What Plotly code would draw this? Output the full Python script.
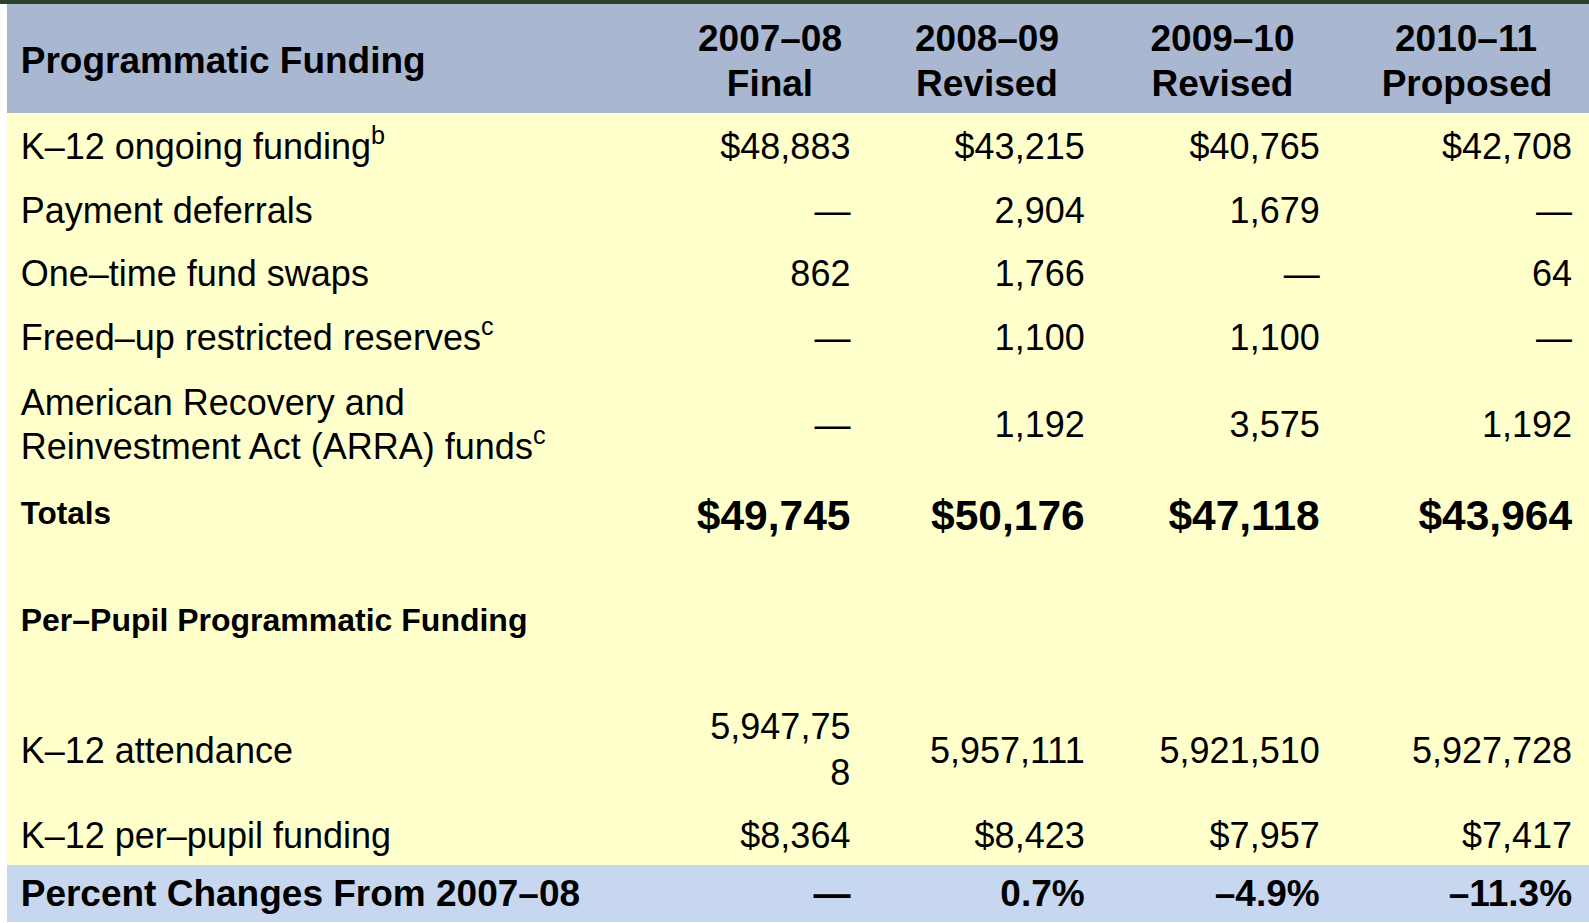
import plotly.graph_objects as go

# ------------------------------------------------------------------ data
years = ["2007–08", "2008–09", "2009–10", "2010–11"]
stages = ["Final", "Revised", "Revised", "Proposed"]
funding_labels = [["K–12 ongoing funding"], ["Payment deferrals"], ["One–time fund swaps"],
                  ["Freed–up restricted reserves"],
                  ["American Recovery and", "Reinvestment Act (ARRA) funds"]]
funding_notes = ["b", "", "", "c", "c"]
k12_ongoing = [48883, 43215, 40765, 42708]
payment_deferrals = [None, 2904, 1679, None]
fund_swaps = [862, 1766, None, 64]
freed_reserves = [None, 1100, 1100, None]
arra_funds = [None, 1192, 3575, 1192]
totals = [49745, 50176, 47118, 43964]
attendance = [5947758, 5957111, 5921510, 5927728]
per_pupil = [8364, 8423, 7957, 7417]
pct_change = [None, 0.7, -4.9, -11.3]

# ------------------------------------------------------------------ style / layout
FONT = "Liberation Sans, Arial, sans-serif"
HEADER_BG = "#A9B8D0"
BODY_BG = "#FFFFCC"
FOOT_BG = "#C6D7EF"
BAND = "#2A4227"

FIG_W, FIG_H = 1589, 923
LEFT, TOP = 7, 4
PAD = 8                       # plotly table cell padding
ASC, DESC, NBW, LS = 0.905, 0.212, 0.278, 1.3
HEADER_H = 109
EDGES = [7, 666, 874, 1100, 1345, 1589]
NUM_END = [850.4, 1084.7, 1319.7, 1572.1]
LABEL_INDENT = 5.7
CELL_MIN = 20

REG = 36          # regular body text
HDR = 37          # bold header text
TOT_LBL, TOT_NUM, SUBHEAD, FOOT = 31.5, 42.5, 32, 37
F_LABEL = 44.0 / LS     # base font of label column (line step 44px)
F_COL1 = 46.0 / LS      # base font of first value column (line step 46px)
F_NUM = 36
F_HDR = 44.5 / LS

NB = "\u00a0"
W_REG = {**{d: 0.556 for d in "0123456789"}, ",": 0.278, ".": 0.278, "$": 0.556,
         "%": 0.889, "–": 0.556, "—": 1.0}
W_BOLD = {**{d: 0.556 for d in "0123456789"}, "–": 0.556, "F": 0.611, "i": 0.278, "n": 0.611,
          "a": 0.556, "l": 0.278, "R": 0.722, "e": 0.556, "v": 0.556, "s": 0.556, "d": 0.611,
          "P": 0.667, "r": 0.389, "o": 0.611, "p": 0.611, "$": 0.556, ",": 0.278, ".": 0.278,
          "%": 0.889, "—": 1.0}


def sp(size):
    return f"<span style='font-size:{size:.2f}px'>{NB}</span>"


def hpad(px, unit=28.0):
    out, step = "", unit * NBW
    while px > step:
        out += sp(unit)
        px -= step
    if px > 0.2:
        out += sp(px / NBW)
    return out


def txt(t, size, bold=False):
    s = f"<span style='font-size:{size:.2f}px'>{t}</span>"
    return f"<b>{s}</b>" if bold else s


def tw(t, size, bold=False):
    table = W_BOLD if bold else W_REG
    return sum(table.get(ch, 0.556) for ch in t) * size


def fmt(v, dollar=False):
    if v is None:
        return "—"
    s = f"{v:,}"
    return ("$" + s) if dollar else s


def fmt_pct(v):
    if v is None:
        return "—"
    return ("–" if v < 0 else "") + f"{abs(v):.1f}%"


def vfit(lines, T, first_base, step, s0=None, bottom=None):
    """Invisible spacer sizes that put the first line on its baseline (and stretch the row)."""
    n = len(lines)
    if s0 is None:
        s0 = 0.0 if first_base is None else max((first_base - T - PAD) / ASC, 0.0)
    a0 = max(ASC * s0, lines[0]["asc"])
    B0 = PAD + a0
    sps = [s0] + [0.0] * (n - 1)
    bots = [B0 + k * step + max(lines[k]["desc"], DESC * sps[k]) for k in range(n)]
    if bottom is not None and n > 1:
        Bl = B0 + (n - 1) * step
        sb = (bottom - T - PAD - Bl) / DESC
        if sb > 0 and Bl - ASC * sb >= PAD:
            sps[-1] = max(sps[-1], sb)
            bots[-1] = max(bots[-1], Bl + DESC * sb)
    return sps, max(bots)


def line(html, size, sup=False, width=0.0):
    asc = 0.7 * size * (0.6 + ASC) if sup else ASC * size
    return dict(html=html, asc=max(asc, ASC * size), desc=DESC * size, w=width)


def join(parts):
    return "<br>".join(parts) + ("<br>" if len(parts) == 1 else "")


def left_cell(lines, sps):
    return join([hpad(LABEL_INDENT) + ln["html"] + (sp(s) if s > 0 else "")
                 for ln, s in zip(lines, sps)])


def right_cell(lines, sps, trail):
    ws = [ln["w"] + NBW * s for ln, s in zip(lines, sps)]
    W = max(ws)
    return join([hpad(W - w) + (sp(s) if s > 0 else "") + ln["html"] + hpad(trail)
                 for ln, s, w in zip(lines, sps, ws)])


def center_cell(lines, sps):
    W = max(ln["w"] + 2 * NBW * s for ln, s in zip(lines, sps))
    out = []
    for ln, s in zip(lines, sps):
        p = NBW * s
        lp = W / 2 - ln["w"] / 2 - p
        rp = W / 2 - ln["w"] / 2
        out.append(hpad(lp) + (sp(s) if s > 0 else "") + ln["html"] + hpad(rp))
    return join(out)


trails = [EDGES[i + 2] - PAD - NUM_END[i] for i in range(4)]
steps = [LS * F_LABEL, LS * F_COL1, LS * F_NUM, LS * F_NUM, LS * F_NUM]

# ------------------------------------------------------------------ header
hdr_T = TOP
s_lbl = (72.5 - hdr_T - PAD) / ASC
header_vals = [hpad(LABEL_INDENT) + txt("Programmatic Funding", HDR, True) + sp(s_lbl) + "<br>"]
for y, st in zip(years, stages):
    lns = [line(txt(y, HDR, True), HDR, width=tw(y, HDR, True)),
           line(txt(st, HDR, True), HDR, width=tw(st, HDR, True))]
    sps, _ = vfit(lns, hdr_T, 50.7, LS * F_HDR)
    header_vals.append(center_cell(lns, sps))

# ------------------------------------------------------------------ body rows
def num_line(text, size=REG, bold=False):
    return line(txt(text, size, bold), size, width=tw(text, size, bold))


series_rows = [k12_ongoing, payment_deferrals, fund_swaps, freed_reserves, arra_funds]
row_specs = []
row_base = [158.5, 222.5, 286.0, 349.5]
for r in range(5):
    lbl_lines = []
    for j, t in enumerate(funding_labels[r]):
        note = funding_notes[r] if j == len(funding_labels[r]) - 1 else ""
        html = txt(t + (f"<sup>{note}</sup>" if note else ""), REG)
        lbl_lines.append(line(html, REG, sup=bool(note)))
    nums = [[num_line(fmt(series_rows[r][i], dollar=(r == 0)))] for i in range(4)]
    if r < 4:
        row_specs.append(dict(label=lbl_lines, lb=row_base[r], nums=nums, nb=row_base[r]))
    else:
        row_specs.append(dict(label=lbl_lines, lb=414.5, nums=nums, nb=436.5, bottom=482))

row_specs.append(dict(label=[line(txt("Totals", TOT_LBL, True), TOT_LBL)], lb=524,
                      nums=[[num_line(fmt(v, True), TOT_NUM, True)] for v in totals], nb=530))
row_specs.append(dict(label=[line(txt("Per–Pupil Programmatic Funding", SUBHEAD, True), SUBHEAD)],
                      lb=631.5, nums=None, nb=None))
att_nums = []
for i, v in enumerate(attendance):
    s = fmt(v)
    parts = [s[:-1], s[-1:]] if i == 0 else [s]
    att_nums.append([num_line(p) for p in parts])
row_specs.append(dict(label=[line(txt("K–12 attendance", REG), REG)], lb=763.5,
                      nums=att_nums, nb=[739.5, 763.5, 763.5, 763.5]))
row_specs.append(dict(label=[line(txt("K–12 per–pupil funding", REG), REG)], lb=None,
                      nums=[[num_line(fmt(v, True))] for v in per_pupil], nb=None, fix_bottom=865))
row_specs.append(dict(label=[line(txt("Percent Changes From 2007–08", FOOT, True), FOOT)], lb=None,
                      nums=[[num_line(fmt_pct(v), FOOT, True)] for v in pct_change], nb=None,
                      foot=True))

cols = [[] for _ in range(5)]
fills = []
T = TOP + HEADER_H
for spec in row_specs:
    fixed = None
    if spec.get("fix_bottom") is not None:
        fixed = (spec["fix_bottom"] - T - 2 * PAD) / (ASC + DESC)
    sps, bot = vfit(spec["label"], T, spec["lb"], steps[0], s0=fixed, bottom=spec.get("bottom"))
    cols[0].append(left_cell(spec["label"], sps))
    bots = [bot]
    for i in range(4):
        if spec["nums"] is None:
            cols[i + 1].append("")
            continue
        lns = spec["nums"][i]
        nb = spec["nb"][i] if isinstance(spec["nb"], list) else spec["nb"]
        sps, bot = vfit(lns, T, nb, steps[i + 1], s0=fixed)
        cols[i + 1].append(right_cell(lns, sps, trails[i]))
        bots.append(bot)
    fills.append(FOOT_BG if spec.get("foot") else BODY_BG)
    T += max(CELL_MIN, max(bots) + PAD)

widths = [EDGES[i + 1] - EDGES[i] for i in range(5)]

fig = go.Figure(go.Table(
    columnwidth=widths,
    header=dict(values=header_vals, fill_color=HEADER_BG, line_width=0, height=HEADER_H,
                align=["left", "center", "center", "center", "center"],
                font=dict(family=FONT, size=[HDR, F_HDR, F_HDR, F_HDR, F_HDR], color="black")),
    cells=dict(values=cols, fill_color=[fills] * 5, line_width=0, height=CELL_MIN,
               align=["left", "right", "right", "right", "right"],
               font=dict(family=FONT, size=[F_LABEL, F_COL1, F_NUM, F_NUM, F_NUM], color="black")),
    domain=dict(x=[0, 1], y=[0, 1]),
))
fig.update_layout(width=FIG_W, height=FIG_H, margin=dict(l=LEFT, r=0, t=TOP, b=0),
                  paper_bgcolor="white")
fig.add_shape(type="rect", xref="paper", yref="paper",
              x0=-LEFT / (FIG_W - LEFT), x1=1, y0=1, y1=1 + TOP / (FIG_H - TOP),
              fillcolor=BAND, line_width=0, layer="above")
fig.write_html("out.html", config={"displayModeBar": False},
               post_script="document.body.style.margin='0';document.body.style.overflow='hidden';")
